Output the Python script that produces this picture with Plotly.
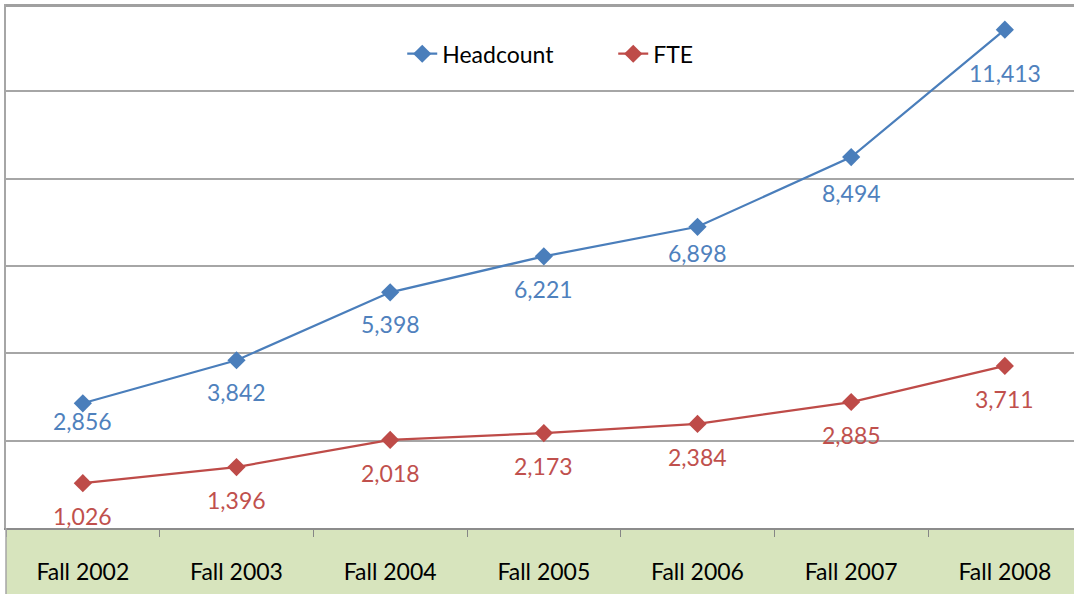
import plotly.graph_objects as go

categories = ["Fall 2002", "Fall 2003", "Fall 2004", "Fall 2005", "Fall 2006", "Fall 2007", "Fall 2008"]
headcount = [2856, 3842, 5398, 6221, 6898, 8494, 11413]
fte = [1026, 1396, 2018, 2173, 2384, 2885, 3711]

BLUE_LINE = "#4A7EBB"
BLUE_TXT = "#4F81BD"
RED_LINE = "#BE4B48"
RED_TXT = "#C0504D"
GRID = "#A6A6A6"
FONT = "Lato"

W, H = 1074, 594
M_L, M_R, M_T, M_B = 6, 0, 4, 66
plot_h = H - M_T - M_B

fig = go.Figure()
fig.add_trace(go.Scatter(
    x=categories, y=headcount, name="Headcount", mode="lines+markers",
    line=dict(color=BLUE_LINE, width=2.25),
    marker=dict(symbol="diamond", size=14, color=BLUE_LINE),
))
fig.add_trace(go.Scatter(
    x=categories, y=fte, name="FTE", mode="lines+markers",
    line=dict(color=RED_LINE, width=2.25),
    marker=dict(symbol="diamond", size=14, color=RED_LINE),
))

head_shift = [-18, -32, -32, -33, -26, -36, -43]
annotations = []
for i, (c, v) in enumerate(zip(categories, headcount)):
    annotations.append(dict(x=c, y=v, text=f"{v:,}", showarrow=False,
                            yshift=head_shift[i], font=dict(family=FONT, size=23, color=BLUE_TXT)))
for c, v in zip(categories, fte):
    annotations.append(dict(x=c, y=v, text=f"{v:,}", showarrow=False,
                            yshift=-33, font=dict(family=FONT, size=23, color=RED_TXT)))

band = -M_B / plot_h
shapes = [
    dict(type="rect", xref="paper", yref="paper", x0=0, x1=1.01, y0=band, y1=0,
         fillcolor="#D7E4BD", line=dict(width=0), layer="below"),
    dict(type="line", xref="paper", yref="paper", x0=0, x1=0, y0=band, y1=0,
         line=dict(color=GRID, width=1.5)),
    dict(type="rect", xref="paper", yref="paper", x0=0, x1=1.01, y0=1 - 3.0 / plot_h, y1=1,
         fillcolor="#A0A0A0", line=dict(width=0), layer="above"),
]

fig.update_layout(
    width=W, height=H,
    margin=dict(l=M_L, r=M_R, t=M_T, b=M_B),
    paper_bgcolor="white", plot_bgcolor="white",
    font=dict(family=FONT, color="black"),
    showlegend=True,
    legend=dict(orientation="h", x=0.371, xanchor="left", y=0.905, yanchor="middle",
                font=dict(family=FONT, size=23, color="black"),
                bgcolor="rgba(0,0,0,0)", itemwidth=30, entrywidth=166, entrywidthmode="pixels"),
    annotations=annotations,
    shapes=shapes,
)
fig.update_xaxes(
    type="category", range=[-0.5, 6.45],
    showline=True, linecolor="#8C8C8C", linewidth=2,
    ticks="outside", tickson="boundaries", ticklen=7, tickcolor="#868686", tickwidth=1,
    tickfont=dict(family=FONT, size=23, color="black"),
    ticklabelstandoff=22,
    showgrid=False,
)
fig.update_yaxes(
    range=[0, 12000], dtick=2000,
    showgrid=True, gridcolor=GRID, gridwidth=1.5,
    showticklabels=False, zeroline=False,
    showline=True, linecolor=GRID, linewidth=1.5,
)

fig.write_html("out.html", config={"displayModeBar": False},
               post_script="document.body.style.margin='0';document.body.style.overflow='hidden';")
